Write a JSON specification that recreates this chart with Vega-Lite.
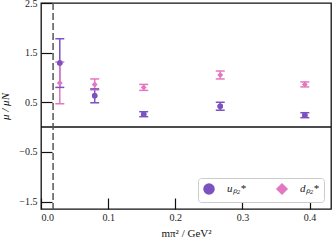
{
  "$schema": "https://vega.github.io/schema/vega-lite/v6.json",
  "width": 290,
  "height": 206,
  "padding": {"left": 41, "top": 3, "right": 4, "bottom": 42},
  "autosize": "none",
  "background": "white",
  "view": {"stroke": "#111", "strokeWidth": 1.3},
  "config": {
    "font": "Liberation Serif",
    "axis": {"labelFont": "Liberation Serif", "titleFont": "Liberation Serif", "labelColor": "#222", "titleColor": "#111", "grid": false, "domain": false, "labelOverlap": false},
    "axisQuantitative": {"labelOverlap": false}
  },
  "data": {"values": [
      {"series": "u", "x": 0.028, "y": 1.29, "lo": 0.80, "hi": 1.78},
      {"series": "u", "x": 0.080, "y": 0.63, "lo": 0.49, "hi": 0.77},
      {"series": "u", "x": 0.153, "y": 0.26, "lo": 0.21, "hi": 0.31},
      {"series": "u", "x": 0.267, "y": 0.42, "lo": 0.34, "hi": 0.50},
      {"series": "u", "x": 0.393, "y": 0.24, "lo": 0.19, "hi": 0.29},
      {"series": "d", "x": 0.028, "y": 0.89, "lo": 0.47, "hi": 1.31},
      {"series": "d", "x": 0.080, "y": 0.86, "lo": 0.75, "hi": 0.97},
      {"series": "d", "x": 0.153, "y": 0.80, "lo": 0.74, "hi": 0.86},
      {"series": "d", "x": 0.267, "y": 1.05, "lo": 0.97, "hi": 1.13},
      {"series": "d", "x": 0.393, "y": 0.86, "lo": 0.81, "hi": 0.91}
  ]},
  "layer": [
    {
      "mark": {"type": "point", "filled": true, "opacity": 1},
      "encoding": {
        "x": {"field": "x", "type": "quantitative", "scale": {"domain": [0, 0.432], "nice": false, "zero": false},
          "axis": {"orient": "bottom", "values": [0, 0.1, 0.2, 0.3, 0.4], "format": ".1f", "labelOverlap": false, "tickSize": -11, "tickColor": "#111", "tickWidth": 1.2, "labelPadding": 14, "labelFontSize": 10, "title": "mπ² / GeV²", "titleFontSize": 11, "titleFontWeight": "normal", "titlePadding": 5}},
        "y": {"field": "y", "type": "quantitative", "scale": {"domain": [-1.65, 2.5], "nice": false, "zero": false},
          "axis": {"orient": "left", "values": [-1.5, -1, -0.5, 0, 0.5, 1, 1.5, 2, 2.5], "format": ".1f", "labelOverlap": false, "tickSize": -11, "tickColor": "#111", "tickWidth": 1.2, "labelPadding": 15, "labelFontSize": 10, "title": "μ / μN", "titleFontSize": 11, "titleFontWeight": "normal", "titleFontStyle": "italic", "titlePadding": 8}},
        "color": {"field": "series", "type": "nominal", "scale": {"domain": ["u", "d"], "range": ["#7b52c0", "#e377c2"]},
          "legend": {"title": null, "orient": "bottom-right", "offset": 7, "direction": "horizontal", "labelExpr": "datum.value === 'u' ? 'uₚ₂*' : 'dₚ₂*'", "labelFont": "Liberation Serif", "labelFontSize": 11, "labelFontStyle": "italic", "labelColor": "#222", "symbolSize": 100, "labelOffset": 12, "columnPadding": 28, "padding": 5, "fillColor": "white", "strokeColor": "#ccc", "cornerRadius": 3}},
        "shape": {"field": "series", "type": "nominal", "scale": {"domain": ["u", "d"], "range": ["circle", "diamond"]}, "legend": null},
        "size": {"value": 30}
      }
    },
    {
      "data": {"values": [{"z": 0}]},
      "mark": {"type": "rule", "stroke": "#111", "strokeWidth": 1.5},
      "encoding": {"y": {"field": "z", "type": "quantitative"}}
    },
    {
      "data": {"values": [{"v": 0.018}]},
      "mark": {"type": "rule", "stroke": "#555", "strokeWidth": 1.5, "strokeDash": [7, 3]},
      "encoding": {"x": {"field": "v", "type": "quantitative"}}
    },
    {
      "mark": {"type": "rule", "strokeWidth": 1.5},
      "encoding": {
        "x": {"field": "x", "type": "quantitative"},
        "y": {"field": "lo", "type": "quantitative"},
        "y2": {"field": "hi"},
        "color": {"field": "series", "type": "nominal", "legend": null}
      }
    },
    {
      "mark": {"type": "tick", "orient": "horizontal", "size": 9, "thickness": 1.5, "opacity": 1},
      "encoding": {
        "x": {"field": "x", "type": "quantitative"},
        "y": {"field": "lo", "type": "quantitative"},
        "color": {"field": "series", "type": "nominal", "legend": null}
      }
    },
    {
      "mark": {"type": "tick", "orient": "horizontal", "size": 9, "thickness": 1.5, "opacity": 1},
      "encoding": {
        "x": {"field": "x", "type": "quantitative"},
        "y": {"field": "hi", "type": "quantitative"},
        "color": {"field": "series", "type": "nominal", "legend": null}
      }
    },
    {
      "mark": {"type": "point", "filled": true, "opacity": 1},
      "encoding": {
        "x": {"field": "x", "type": "quantitative"},
        "y": {"field": "y", "type": "quantitative"},
        "color": {"field": "series", "type": "nominal", "legend": null},
        "shape": {"field": "series", "type": "nominal", "legend": null},
        "size": {"value": 30}
      }
    }
  ]
}
